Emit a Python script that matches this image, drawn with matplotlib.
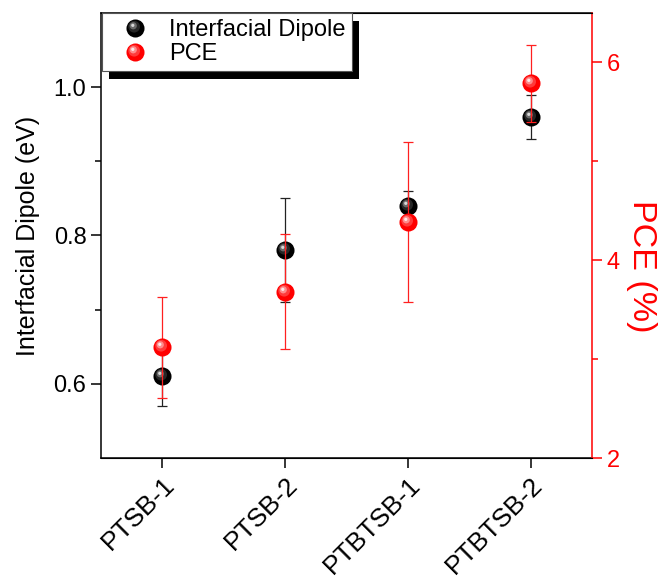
import matplotlib
matplotlib.use('Agg')
import matplotlib.pyplot as plt
import numpy as np
from matplotlib.path import Path
from matplotlib.legend_handler import HandlerTuple
from matplotlib.patches import Rectangle
from matplotlib.ticker import FixedLocator, FormatStrFormatter
from matplotlib.transforms import ScaledTranslation

plt.rcParams['font.family'] = ['Liberation Sans', 'DejaVu Sans']

# 数据
samples = ['PTSB-1', 'PTSB-2', 'PTBTSB-1', 'PTBTSB-2']
dipole = [0.61, 0.78, 0.84, 0.96]
dipole_err = [0.04, 0.07, 0.02, 0.03]
pce = [3.12, 3.68, 4.39, 5.79]
pce_err = [0.51, 0.58, 0.81, 0.39]


def ball_marker(cx, cy, r):
    # 偏心圆形标记, 用角点固定缩放
    c = Path.circle(center=(cx, cy), radius=r)
    verts = np.vstack([c.vertices, [[-1, -1], [1, 1]]])
    codes = np.concatenate([c.codes, [Path.MOVETO, Path.MOVETO]])
    return Path(verts, codes)


def sphere(ax, x, y, base, shades, ms=13, z=3):
    hs = []
    hs.append(ax.plot(x, y, ls='none', marker='o', ms=ms, mfc=base, mec=base, mew=0, zorder=z)[0])
    layers = [(-0.15, 0.2, 0.65), (-0.25, 0.3, 0.4), (-0.3, 0.35, 0.18)]
    for (cx, cy, r), col in zip(layers, shades):
        hs.append(ax.plot(x, y, ls='none', marker=ball_marker(cx, cy, r), ms=ms,
                          mfc=col, mec='none', mew=0, zorder=z + 0.1)[0])
    return tuple(hs)


fig = plt.figure(figsize=(6.6, 5.78), dpi=100)
ax = fig.add_axes([0.153, 0.2076, 0.744, 0.77])
ax2 = ax.twinx()

x = np.arange(1, len(samples) + 1)

ax.errorbar(x, dipole, yerr=dipole_err, fmt='none', ecolor='#222222', elinewidth=0.9,
            capsize=3.5, capthick=0.9, zorder=2)
ax2.errorbar(x, pce, yerr=pce_err, fmt='none', ecolor='#ff2020', elinewidth=0.9,
             capsize=3.5, capthick=0.9, zorder=2)
h1 = sphere(ax, x, dipole, '#000000', ['#262626', '#6a6a6a', '#d8d8d8'])
h2 = sphere(ax2, x, pce, '#ff0000', ['#ff3a3a', '#ff8c8c', '#ffe8e8'])

ax.set_xlim(0.5, 4.5)
ax.set_ylim(0.5, 1.1)
ax2.set_ylim(2, 6.5)

ax.set_xticks(x)
ax.set_xticklabels(samples, rotation=45, ha='right', rotation_mode='anchor', fontsize=19)
shift = ScaledTranslation(6 / 72, 2 / 72, fig.dpi_scale_trans)
for lab in ax.get_xticklabels():
    lab.set_transform(lab.get_transform() + shift)
ax.yaxis.set_major_locator(FixedLocator([0.6, 0.8, 1.0]))
ax.yaxis.set_minor_locator(FixedLocator([0.7, 0.9]))
ax.yaxis.set_major_formatter(FormatStrFormatter('%.1f'))
ax2.yaxis.set_major_locator(FixedLocator([2, 4, 6]))
ax2.yaxis.set_minor_locator(FixedLocator([3, 5]))

ax.tick_params(axis='y', which='major', direction='out', length=7, width=1.1, labelsize=17)
ax.tick_params(axis='x', which='major', direction='out', length=7, width=1.1)
ax.tick_params(axis='y', which='minor', direction='out', length=4, width=1.1)
ax.tick_params(axis='x', which='minor', bottom=False)
ax2.tick_params(axis='y', which='major', direction='out', length=7, width=1.1,
                colors='red', labelsize=17)
ax2.tick_params(axis='y', which='minor', direction='out', length=4, width=1.1, colors='red')

for s in ['left', 'bottom', 'top']:
    ax.spines[s].set_linewidth(1.1)
ax2.spines['right'].set_color('red')
ax2.spines['right'].set_linewidth(1.1)
ax2.spines['left'].set_visible(False)
ax.spines['right'].set_visible(False)

ax.set_ylabel('Interfacial Dipole (eV)', fontsize=18, labelpad=10)
ax2.set_ylabel('PCE (%)', fontsize=24.5, color='red', rotation=270, labelpad=27)
ax2.yaxis.label.set_y(0.43)

leg = ax2.legend([h1, h2], ['Interfacial Dipole', 'PCE'],
                 handler_map={tuple: HandlerTuple(ndivide=1)},
                 loc='upper left', bbox_to_anchor=(0.1545, 0.9775),
                 bbox_transform=fig.transFigure, borderaxespad=0, fontsize=17,
                 fancybox=False, framealpha=1, edgecolor='#555555',
                 handletextpad=0.3, borderpad=0.25, labelspacing=0.1,
                 handlelength=2.3)
leg.get_frame().set_linewidth(0.8)
leg.set_zorder(10)

fig.canvas.draw()
bb = leg.get_window_extent().transformed(fig.transFigure.inverted())
dx, dy = 7 / 660, 8 / 578
shadow = Rectangle((bb.x0 + dx, bb.y0 - dy), bb.width, bb.height, transform=fig.transFigure,
                   facecolor='black', edgecolor='none', zorder=9, clip_on=False)
ax2.add_patch(shadow)

fig.savefig('out.png', dpi=100)
